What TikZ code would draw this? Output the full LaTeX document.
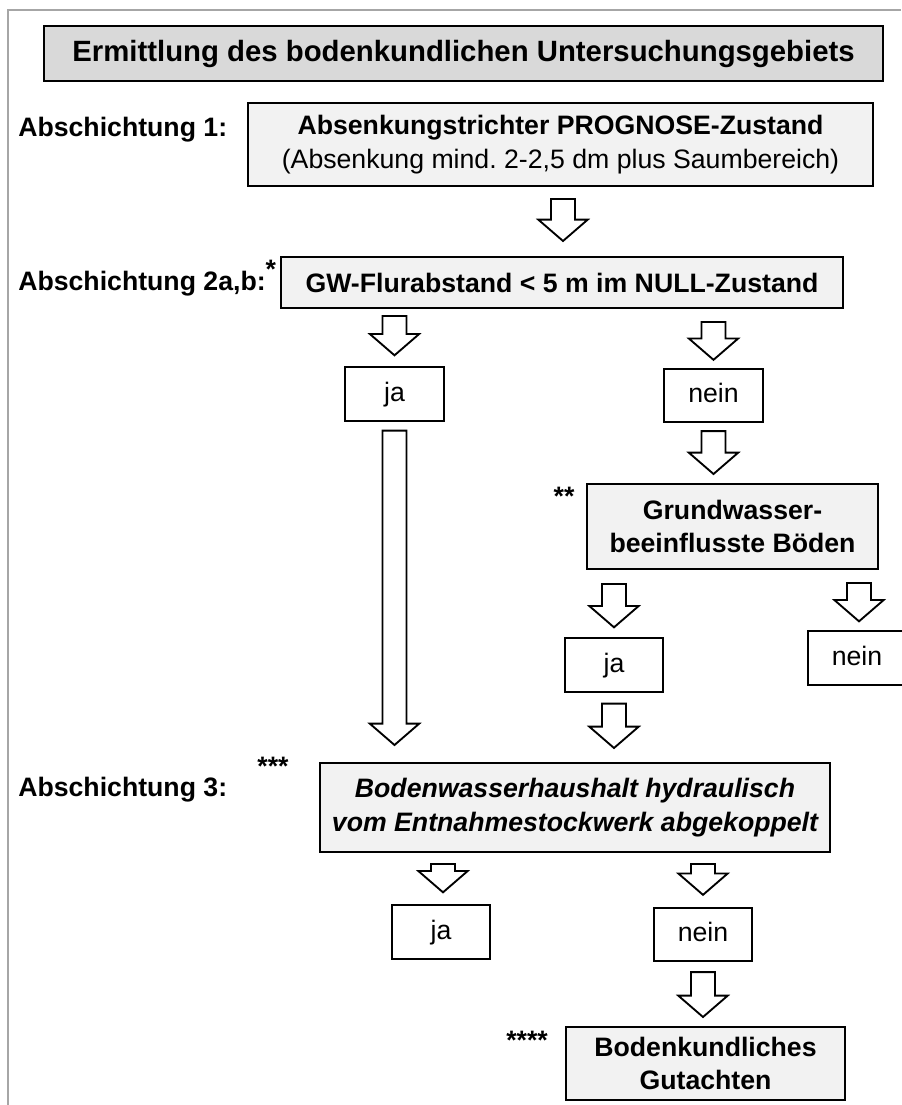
\documentclass[tikz,border=0pt]{standalone}
\usepackage{fontspec}
\setmainfont{Liberation Sans}
\usepackage{tikz}
\usetikzlibrary{calc}
\frenchspacing
\definecolor{headgray}{HTML}{D9D9D9}
\definecolor{boxgray}{HTML}{F2F2F2}
\tikzset{
  headbox/.style={draw, fill=headgray, line width=1.5pt, inner sep=0pt, minimum width=629pt, minimum height=41pt, font=\fontsize{22}{26}\selectfont\bfseries},
  stepbox/.style={draw, fill=boxgray, line width=1.5pt, inner sep=0pt, align=center, font=\fontsize{20}{25}\selectfont\bfseries},
  answ/.style   ={draw, fill=white, line width=1.5pt, inner sep=0pt, minimum width=74pt, minimum height=40pt, text height=10.5pt, text depth=0pt, font=\fontsize{20}{24}\selectfont},
  lbl/.style    ={anchor=west, inner sep=0pt, font=\fontsize{20}{24}\selectfont\bfseries},
  stars/.style  ={inner sep=0pt, font=\fontsize{20}{24}\selectfont\bfseries},
  blk/.style    ={draw, fill=white, line width=1.4pt, line join=miter},
  frm/.style    ={draw=black!35, line width=0.9pt},
}
% hollow block arrow: top centre #1, tip at height of #2
\newcommand{\blkarrow}[2]{%
  \draw[blk] let \p1=(#1), \p2=(#2) in
    (\x1-9pt,\y1) -- (\x1+9pt,\y1) -- (\x1+9pt,\y2+16pt) -- (\x1+18.5pt,\y2+16pt)
    -- (\x1,\y2) -- (\x1-18.5pt,\y2+16pt) -- (\x1-9pt,\y2+16pt) -- cycle;}

\begin{document}
\begin{tikzpicture}[x=0.75pt, y=-0.75pt]
  \useasboundingbox (0,0) rectangle (901,1105);
  \draw[frm] (8,1105) -- (8,10) -- (901,10);

  \node[headbox] (head) at (463.5,53.5) {Ermittlung des bodenkundlichen Untersuchungsgebiets};

  % Abschichtung 1
  \node[lbl] (l1) at (18,130) {Abschichtung 1:};
  \node[stepbox, minimum width=468.75pt, minimum height=62.25pt] (box1) at (560.5,144.5)
    {Absenkungstrichter PROGNOSE-Zustand\\[1pt]{\mdseries (Absenkung mind. 2-2,5 dm plus Saumbereich)}};

  % Abschichtung 2
  \node[lbl] (l2) at (18,284) {Abschichtung 2a,b:\smash{\raisebox{9pt}{*}}};
  \node[stepbox, minimum width=421.5pt, minimum height=38.25pt] (box2) at (562,282.5)
    {GW-Flurabstand < 5 m im NULL-Zustand};
  \node[answ] (ja1) at (394.5,394) {ja};
  \node[answ] (nein1) at (713.5,395.5) {nein};
  \node[stars] (s2) at (564,496) {**};
  \node[stepbox, minimum width=218.25pt, minimum height=63.75pt] (grund) at (732.5,526.5)
    {Grundwasser-\\beeinflusste Böden};
  \node[answ] (ja2) at (614,665) {ja};
  \node[answ] (nein2) at (857,658) {nein};

  % Abschichtung 3
  \node[lbl] (l3) at (18,790) {Abschichtung 3:};
  \node[stars] (s3) at (273,766) {***};
  \node[stepbox, font=\fontsize{20}{25}\selectfont\bfseries\itshape, minimum width=382.5pt, minimum height=66.75pt] (box3) at (575,807.5)
    {Bodenwasserhaushalt hydraulisch\\vom Entnahmestockwerk abgekoppelt};
  \node[answ] (ja3) at (441,932) {ja};
  \node[answ] (nein3) at (703,934.5) {nein};
  \node[stars] (s4) at (527,1040) {****};
  \node[stepbox, minimum width=209.25pt, minimum height=54.75pt] (gut) at (705.5,1063.5)
    {Bodenkundliches\\Gutachten};

  % arrows
  \blkarrow{$(box1.south)+(2.5,12)$}{$(box2.north)+(0,-15)$}
  \blkarrow{$(ja1 |- box2.south)+(0,7)$}{$(ja1.north)+(0,-11)$}
  \blkarrow{$(nein1 |- box2.south)+(0,13)$}{$(nein1.north)+(0,-8)$}
  \blkarrow{$(ja1.south)+(0,9)$}{$(ja1 |- box3.north)+(0,-17)$}
  \blkarrow{$(nein1.south)+(0,8)$}{$(grund.north)+(0,-9)$}
  \blkarrow{$(ja2 |- grund.south)+(0,14)$}{$(ja2.north)+(0,-10)$}
  \blkarrow{$(nein2 |- grund.south)+(2,13)$}{$(nein2.north)+(0,-9)$}
  \blkarrow{$(ja2.south)+(0,11)$}{$(box3.north)+(0,-14)$}
  \blkarrow{$(ja3 |- box3.south)+(2,11)$}{$(ja3.north)+(0,-12)$}
  \blkarrow{$(nein3 |- box3.south)+(0,11)$}{$(nein3.north)+(0,-12)$}
  \blkarrow{$(nein3.south)+(0,10)$}{$(gut.north)+(0,-9)$}
\end{tikzpicture}
\end{document}
